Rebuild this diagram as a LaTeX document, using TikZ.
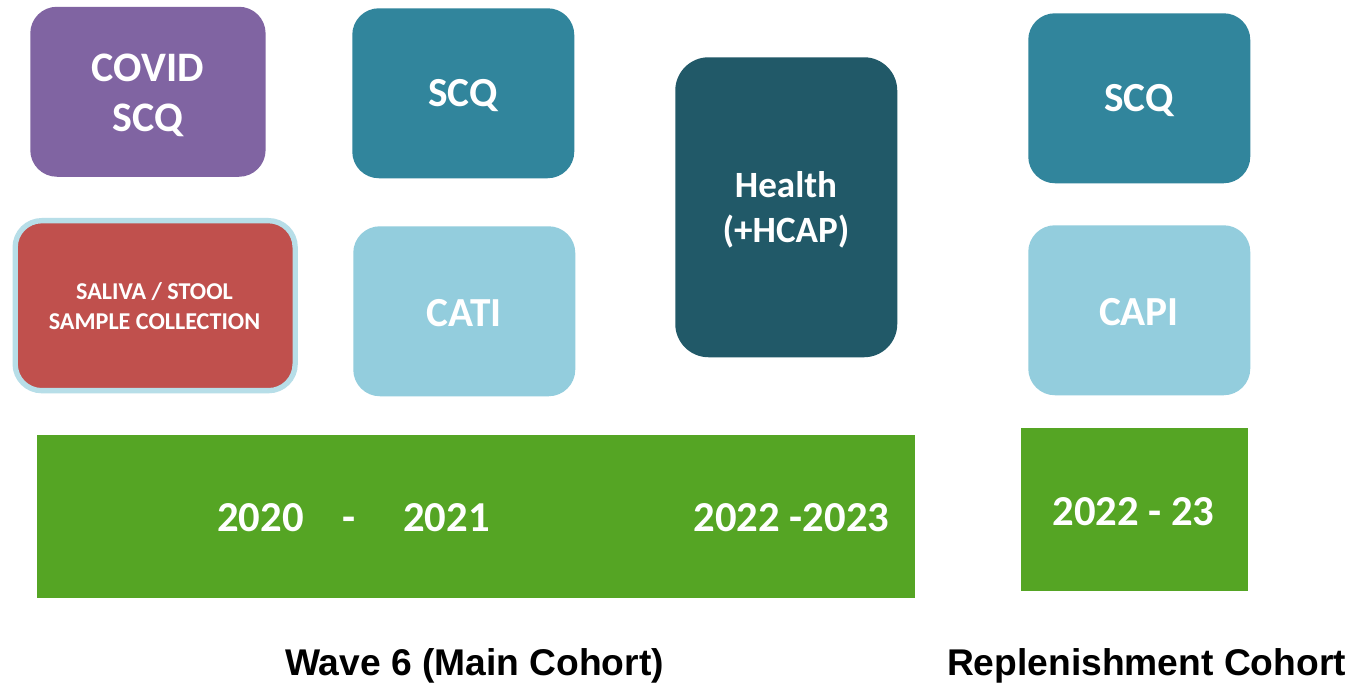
\documentclass[tikz,border=0pt]{standalone}
\usepackage{fontspec}
\setmainfont{Carlito}
\newfontfamily\arialf{Liberation Sans}
\definecolor{purp}{HTML}{8064A2}
\definecolor{teal1}{HTML}{31859C}
\definecolor{teal2}{HTML}{215968}
\definecolor{lblue}{HTML}{93CDDD}
\definecolor{redb}{HTML}{C0504D}
\definecolor{redl}{HTML}{B7DEE8}
\definecolor{grn}{HTML}{55A524}
\tikzset{x=0.75pt,y=-0.75pt,
 box/.style={rounded corners=#1,inner sep=0pt,anchor=north west},
 boxlabel/.style={text=white,align=center,inner sep=0pt},
 bigtext/.style={boxlabel,font=\fontsize{31}{37}\selectfont\bfseries},
 yeartext/.style={text=white,anchor=base,inner sep=0pt,font=\fontsize{32}{38}\selectfont\bfseries},
 captext/.style={font=\arialf\fontsize{27.9}{33}\selectfont\bfseries}}
\begin{document}
\begin{tikzpicture}
\useasboundingbox (0,0) rectangle (1347,684);
\fill[white] (0,0) rectangle (1347,684);
\node[box=20pt,fill=purp,minimum width=176.5pt,minimum height=127.5pt] (covid) at (30,6.5) {};
\node[boxlabel,font=\fontsize{31.5}{38}\selectfont\bfseries] (covidt) at (148,95.5) {COVID\\SCQ};
\node[box=20pt,fill=teal1,minimum width=166.5pt,minimum height=127.5pt] (scqa) at (352,8) {};
\node[bigtext] (scqat) at (463,96) {SCQ};
\node[box=20pt,fill=redb,draw=redl,line width=4pt,minimum width=210pt,minimum height=127.5pt] (saliva) at (12.5,218) {};
\node[boxlabel,font=\fontsize{18.1}{22}\selectfont\bfseries] (salivat) at (154.5,306) {SALIVA / STOOL\\SAMPLE COLLECTION};
\node[box=20pt,fill=lblue,minimum width=166.5pt,minimum height=127.5pt] (cati) at (353,226) {};
\node[bigtext] (catit) at (464,313) {CATI};
\node[box=25pt,fill=teal2,minimum width=166.5pt,minimum height=225pt] (health) at (675,57) {};
\node[boxlabel,font=\fontsize{27.8}{34}\selectfont\bfseries] (healtht) at (786,210) {Health\\(+HCAP)};
\node[box=20pt,fill=teal1,minimum width=166.5pt,minimum height=127.5pt] (scqb) at (1028,13) {};
\node[bigtext] (scqbt) at (1139,101) {SCQ};
\node[box=20pt,fill=lblue,minimum width=166.5pt,minimum height=127.5pt] (capi) at (1028,225) {};
\node[bigtext] (capit) at (1139,312) {CAPI};
\node[fill=grn,inner sep=0pt,minimum width=658.5pt,minimum height=122pt,anchor=north west] (bar) at (37,435) {};
\node[fill=grn,inner sep=0pt,minimum width=170.5pt,minimum height=122pt,anchor=north west] (barb) at (1020.3,428) {};
\node[yeartext] (t1) at (260.5,532) {2020};
\node[yeartext] (t2) at (349,532) {-};
\node[yeartext] (t3) at (446.5,532) {2021};
\node[yeartext] (t4) at (791.5,532) {2022 -2023};
\node[yeartext] (t5) at (1133.5,525) {2022 - 23};
\node[captext] (w) at (474.5,666) {Wave 6 (Main Cohort)};
\node[captext] (r) at (1146.5,666) {Replenishment Cohort};
\end{tikzpicture}
\end{document}
